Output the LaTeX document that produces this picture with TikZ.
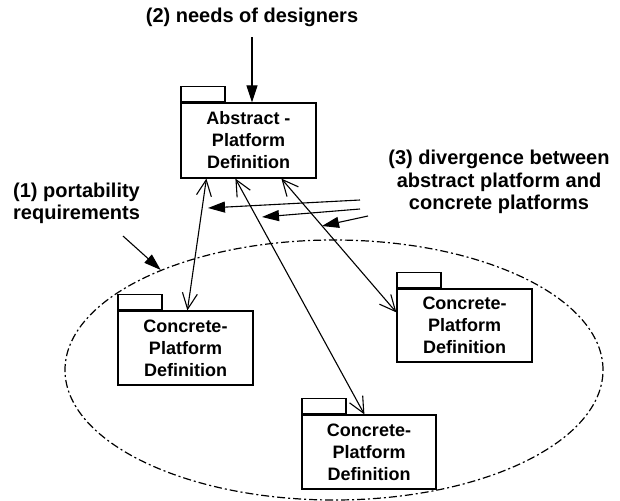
\documentclass[tikz,border=0pt]{standalone}
\usepackage{fontspec}
\setmainfont{Liberation Sans}
\usetikzlibrary{arrows.meta,calc,shapes.geometric}
\begin{document}
\begin{tikzpicture}[x=1pt,y=-1pt,
  box/.style={draw,line width=1.2pt,minimum width=135pt,minimum height=75pt,inner sep=0pt,align=center,font=\fontsize{18}{22}\selectfont\bfseries},
  tabbox/.style={draw,line width=1.2pt,minimum width=44pt,minimum height=15pt,inner sep=0pt,anchor=south west},
  lbl/.style={font=\fontsize{20}{22.5}\selectfont\bfseries,inner sep=0pt},
  dbl/.style={line width=1.1pt,{Straight Barb[length=16pt,width=15pt]}-{Straight Barb[length=16pt,width=15pt]}},
  fil/.style={line width=1.1pt,-{Triangle[length=17pt,width=11pt]}},
  dashdot/.style={line width=1.2pt,dash pattern=on 8pt off 3pt on 2pt off 3pt}
]
\useasboundingbox (0,0) rectangle (620,500);

\node[draw,ellipse,dashdot,minimum width=538pt,minimum height=260pt,inner sep=0pt] (ell) at (334,370) {};

\node[box] (abs) at (248.5,140.5) {Abstract -\\Platform\\Definition};
\node[tabbox] (abstab) at (abs.north west) {};
\node[box,minimum height=74pt] (c1) at (185.5,348) {Concrete-\\Platform\\Definition};
\node[tabbox] (c1tab) at (c1.north west) {};
\node[box,minimum height=73pt] (c2) at (464.5,325.5) {Concrete-\\Platform\\Definition};
\node[tabbox] (c2tab) at (c2.north west) {};
\node[box,minimum width=134pt,minimum height=74pt] (c3) at (369,452) {Concrete-\\Platform\\Definition};
\node[tabbox] (c3tab) at (c3.north west) {};

\node[lbl,anchor=base] (lab2) at (252,23) {(2) needs of designers};
\node[lbl,anchor=north west,align=left] (lab1) at (13,182.5) {(1) portability\\requirements};
\node[lbl,anchor=north,align=center] (lab3) at (499,150) {(3) divergence between\\abstract platform and\\concrete platforms};

\draw[fil] ([yshift=-10pt]lab2.south) -- (lab2.south |- abs.north);
\draw[fil] ($(lab1.south west)+(110,12)$) -- (ell.150.4);

\draw[dbl] ($(abs.south west)+(26,0)$) -- ($(c1.north west)+(70,0)$);
\draw[dbl] ($(abs.south west)+(55,0)$) -- ($(c3.north west)+(63,0)$);
\draw[dbl] ($(abs.south west)+(101,0)$) -- ($(c2.north west)+(0,24)$);

\coordinate (d1s) at (360,200); \coordinate (d1e) at (208,208);
\coordinate (d2s) at (360,209); \coordinate (d2e) at (262,217);
\coordinate (d3s) at (368,216); \coordinate (d3e) at (322,226);
\draw[fil] (d1s) -- (d1e);
\draw[fil] (d2s) -- (d2e);
\draw[fil] (d3s) -- (d3e);
\end{tikzpicture}
\end{document}
